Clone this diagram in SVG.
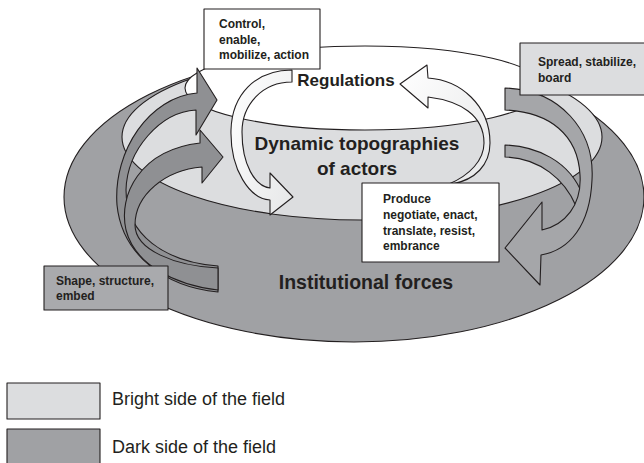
<svg xmlns="http://www.w3.org/2000/svg" width="644" height="463" viewBox="0 0 644 463">
<defs>
<linearGradient id="wg" x1="0" y1="0" x2="1" y2="1">
<stop offset="0" stop-color="#ffffff"/>
<stop offset="1" stop-color="#e6e7e8"/>
</linearGradient>
<style>
.ln{stroke:#231f20;stroke-width:1.1;stroke-linejoin:round}
.dark{fill:#a0a1a4}
.light{fill:#dcdddf}
.rib{fill:#8f9093}
.ribr{fill:#a5a6a9}
.wa{fill:url(#wg)}
.bt{font-family:"Liberation Sans",Arial,sans-serif;font-weight:bold;fill:#231f20}
.s{font-size:12px}
.big{font-size:19px}
.lg{font-family:"Liberation Sans",Arial,sans-serif;font-size:18px;fill:#231f20}
</style>
</defs>
<rect width="644" height="463" fill="#ffffff"/>

<g id="institutional-forces">
<ellipse class="dark ln" cx="354" cy="197" rx="290" ry="145"/>
</g>
<g id="dynamic-topographies">
<ellipse class="light ln" cx="362" cy="137" rx="240" ry="83"/>
</g>
<g id="regulations">
<ellipse class="ln" fill="#ffffff" cx="365" cy="88" rx="180" ry="42"/>
</g>

<g id="connectors">
<path class="rib ln" d="M218,292 C165,287 122,255 117,205 C113,150 150,97 197,93 L197,68 L217,100 L196,135 L196,110 C160,112 127,150 126,190 C126,235 165,262 218,266 Z"/>
<path class="rib ln" d="M218,290 C175,285 135,265 126,230 C118,195 140,150 200,143 L200,130 L223,157 L202,183 L202,167 C165,170 135,195 135,225 C135,250 175,266 218,268 Z"/>
<path class="ribr ln" d="M505,145 C535,146 570,160 583,196 L576,206 C565,180 540,158 505,157 Z"/>
<path class="ribr ln" d="M505,88 C560,90 595,130 592,180 C590,225 570,250 541,255 L540,285 L505,248 L542,202 L542,230 C565,225 582,205 580,175 C578,135 550,112 505,110 Z"/>
<path class="wa ln" d="M292,70 C255,70 232,95 231,130 C230,170 250,199 270,200 L270,215 L293,197 L270,173 L270,188 C255,186 242,165 242,132 C242,105 262,82 292,82 Z"/>
<path class="wa ln" d="M452,184 C475,180 490,165 490,143 C490,105 460,80 428,78 L427,65 L400,84 L428,108 L428,97 C460,101 484,115 484,143 C484,160 470,175 449,184 Z"/>
</g>

<g id="box-control">
<rect class="ln" fill="#ffffff" x="204" y="9" width="116" height="60"/>
<text class="bt s" x="219" y="28">Control,</text>
<text class="bt s" x="219" y="44">enable,</text>
<text class="bt s" x="219" y="59">mobilize, action</text>
</g>
<g id="box-spread">
<rect class="light ln" x="520" y="43" width="130" height="52"/>
<text class="bt s" x="538" y="66">Spread, stabilize,</text>
<text class="bt s" x="538" y="82">board</text>
</g>
<g id="box-shape">
<rect class="ln" fill="#a9aaad" x="44" y="266" width="124" height="44"/>
<text class="bt s" x="56" y="285">Shape, structure,</text>
<text class="bt s" x="56" y="300">embed</text>
</g>
<g id="box-produce">
<rect class="ln" fill="#ffffff" x="362" y="183" width="137" height="79"/>
<text class="bt s" x="383" y="203">Produce</text>
<text class="bt s" x="383" y="219">negotiate, enact,</text>
<text class="bt s" x="383" y="235">translate, resist,</text>
<text class="bt s" x="383" y="250">embrance</text>
</g>

<g id="labels">
<text class="bt" font-size="17" x="346" y="86" text-anchor="middle">Regulations</text>
<text class="bt big" x="357" y="150" text-anchor="middle">Dynamic topographies</text>
<text class="bt big" x="357" y="175" text-anchor="middle">of actors</text>
<text class="bt" font-size="19.5" x="366" y="289" text-anchor="middle">Institutional forces</text>
</g>

<g id="legend-bright">
<rect class="light ln" x="7" y="383" width="93" height="36"/>
<text class="lg" x="112" y="405">Bright side of the field</text>
</g>
<g id="legend-dark">
<rect class="dark ln" x="7" y="429" width="93" height="36"/>
<text class="lg" x="112" y="453">Dark side of the field</text>
</g>
</svg>
